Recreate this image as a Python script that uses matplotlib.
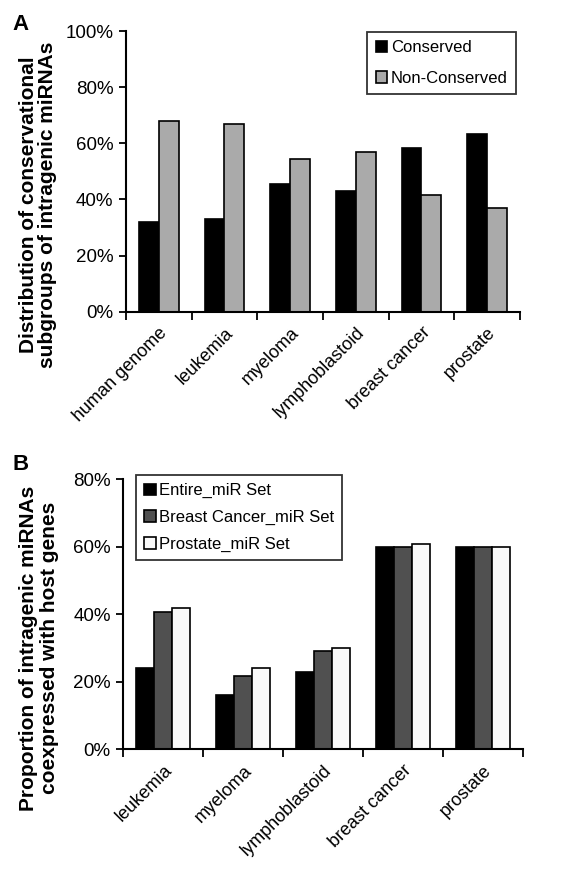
import numpy as np
import matplotlib
matplotlib.use('Agg')
import matplotlib.pyplot as plt

plt.rcParams['font.family'] = ['Liberation Sans', 'DejaVu Sans']

# panel A: conservation of intragenic miRNAs
cats_a = ['human genome', 'leukemia', 'myeloma', 'lymphoblastoid', 'breast cancer', 'prostate']
conserved = [0.32, 0.33, 0.455, 0.43, 0.583, 0.632]
non_conserved = [0.68, 0.67, 0.545, 0.57, 0.417, 0.368]

# panel B: coexpression with host genes
cats_b = ['leukemia', 'myeloma', 'lymphoblastoid', 'breast cancer', 'prostate']
entire_set = [0.242, 0.16, 0.228, 0.60, 0.60]
breast_set = [0.408, 0.218, 0.291, 0.60, 0.60]
prostate_set = [0.418, 0.24, 0.299, 0.608, 0.60]

fig = plt.figure(figsize=(5.81, 8.77), dpi=100)
ax1 = fig.add_axes([0.2169, 0.6446, 0.678, 0.32])
ax2 = fig.add_axes([0.2122, 0.1456, 0.688, 0.3079])


def style_axes(ax, cats, ymax, step):
    n = len(cats)
    ax.set_xlim(-0.5, n - 0.5)
    ax.set_ylim(0, ymax)
    for s in ['top', 'right']:
        ax.spines[s].set_visible(False)
    for s in ['left', 'bottom']:
        ax.spines[s].set_linewidth(1.5)
    yt = np.arange(0, ymax + 1e-9, step)
    ax.set_yticks(yt)
    ax.set_yticklabels(['%d%%' % round(v * 100) for v in yt], fontsize=13.5)
    ax.tick_params(axis='y', length=5, width=1.3, pad=4)
    ax.set_xticks(np.arange(n))
    ax.set_xticklabels(cats, rotation=45, ha='right', rotation_mode='anchor', fontsize=13)
    ax.set_xticks(np.arange(n + 1) - 0.5, minor=True)
    ax.tick_params(axis='x', which='major', length=0, pad=9)
    ax.tick_params(axis='x', which='minor', length=6, width=1.3)


x = np.arange(len(cats_a))
w = 0.3
ax1.bar(x - w / 2, conserved, w, color='black', edgecolor='black', linewidth=1.2, label='Conserved')
ax1.bar(x + w / 2, non_conserved, w, color='#aaaaaa', edgecolor='black', linewidth=1.2, label='Non-Conserved')
style_axes(ax1, cats_a, 1.0, 0.2)
leg1 = ax1.legend(loc='upper right', bbox_to_anchor=(0.99, 0.997), borderaxespad=0, fontsize=12,
                  fancybox=False, edgecolor='black', handlelength=0.7, handleheight=0.7,
                  handletextpad=0.2, labelspacing=0.95, borderpad=0.5)
leg1.get_frame().set_linewidth(1.3)

x = np.arange(len(cats_b))
w = 0.225
ax2.bar(x - w, entire_set, w, color='black', edgecolor='black', linewidth=1.2, label='Entire_miR Set')
ax2.bar(x, breast_set, w, color='#505050', edgecolor='black', linewidth=1.2, label='Breast Cancer_miR Set')
ax2.bar(x + w, prostate_set, w, color='#fafafa', edgecolor='black', linewidth=1.2, label='Prostate_miR Set')
style_axes(ax2, cats_b, 0.8, 0.2)
leg2 = ax2.legend(loc='upper left', bbox_to_anchor=(0.031, 1.016), borderaxespad=0, fontsize=12,
                  fancybox=False, edgecolor='black', handlelength=0.7, handleheight=0.7,
                  handletextpad=0.2, labelspacing=0.7, borderpad=0.5)
leg2.get_frame().set_linewidth(1.3)

# two-line axis titles, one text per line
ylab_kw = dict(rotation=90, ha='center', va='center', fontsize=15, fontweight='bold')
fig.text(0.0499, 0.767, 'Distribution of conservational', **ylab_kw)
fig.text(0.0818, 0.767, 'subgroups of intragenic miRNAs', **ylab_kw)
fig.text(0.0499, 0.261, 'Proportion of intragenic miRNAs', **ylab_kw)
fig.text(0.0852, 0.261, 'coexpressed with host genes', **ylab_kw)

fig.text(0.022, 0.972, 'A', fontsize=16, fontweight='bold', va='center')
fig.text(0.022, 0.4704, 'B', fontsize=16, fontweight='bold', va='center')

fig.savefig('out.png', dpi=100)
